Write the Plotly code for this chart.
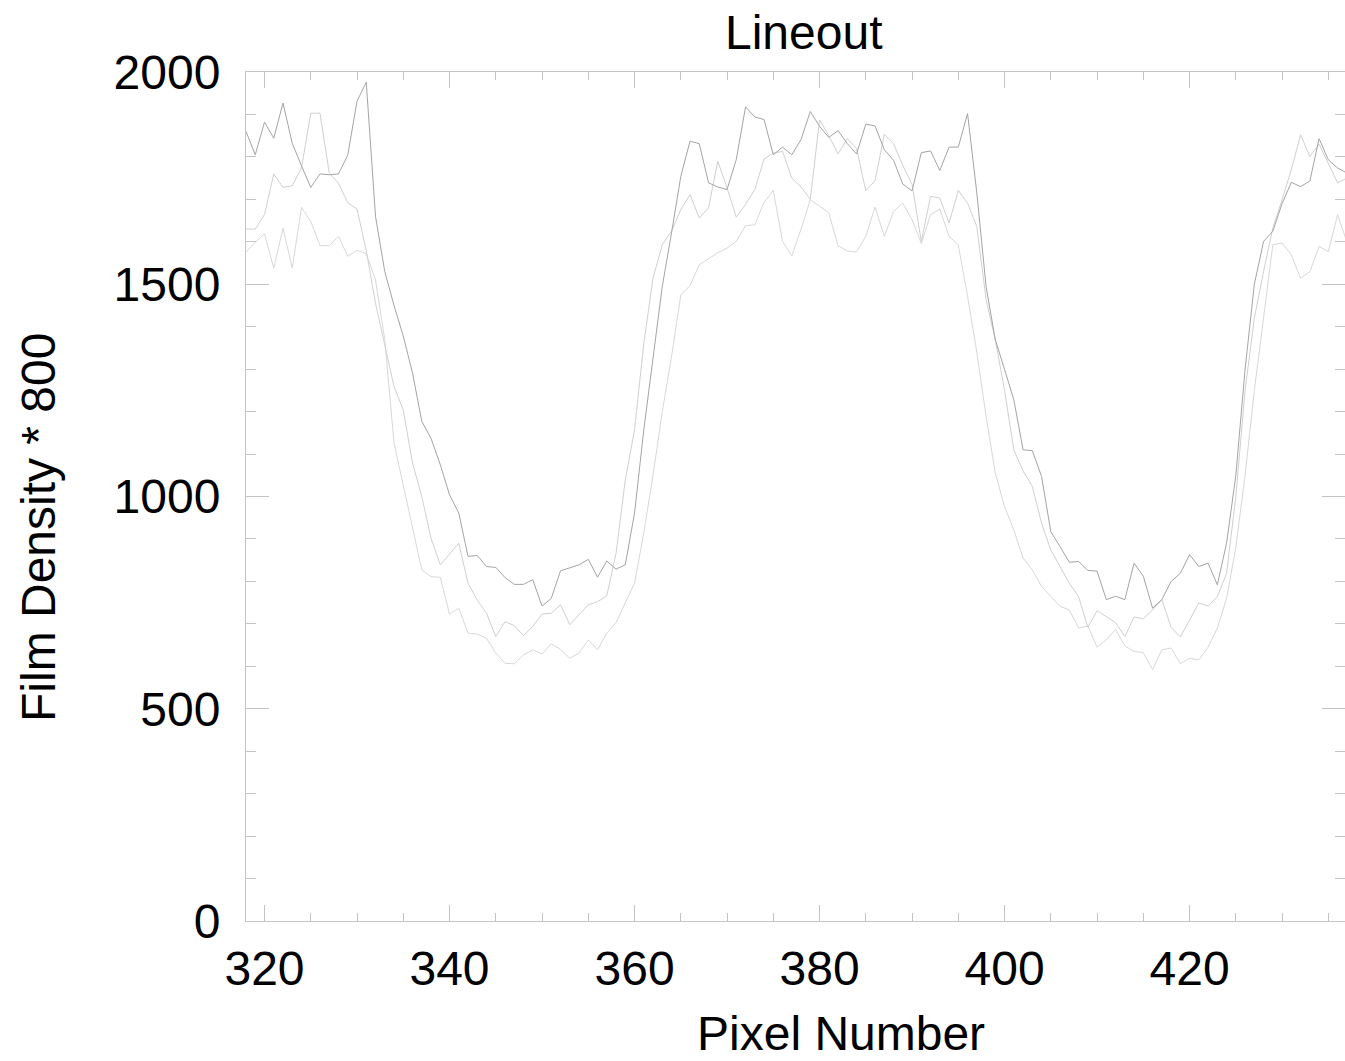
import plotly.graph_objects as go

# Pixel index along the lineout
pixel = list(range(318, 438))

# Three lineouts (film density * 800)
lineout_a = [
    1860, 1805, 1882, 1844, 1927, 1832, 1779, 1728, 1760, 1758,
    1760, 1804, 1931, 1976, 1660, 1530, 1450, 1378, 1291, 1177,
    1137, 1075, 1004, 961, 859, 861, 835, 833, 809, 793,
    793, 804, 742, 760, 825, 832, 839, 852, 810, 848,
    829, 839, 961, 1157, 1330, 1495, 1621, 1754, 1837, 1831,
    1739, 1729, 1723, 1794, 1918, 1894, 1888, 1805, 1823, 1805,
    1841, 1907, 1872, 1846, 1862, 1831, 1807, 1877, 1873, 1817,
    1792, 1736, 1720, 1810, 1814, 1768, 1823, 1823, 1902, 1715,
    1495, 1369, 1299, 1228, 1110, 1108, 1047, 917, 882, 845,
    847, 826, 824, 757, 765, 757, 843, 812, 737, 757,
    800, 819, 863, 835, 843, 792, 890, 1050, 1300, 1500,
    1601, 1625, 1690, 1740, 1730, 1743, 1843, 1793, 1774, 1762,
]
lineout_b = [
    1630, 1630, 1664, 1760, 1728, 1732, 1774, 1903, 1903, 1762,
    1738, 1692, 1677, 1580, 1455, 1360, 1259, 1204, 1079, 1000,
    902, 839, 865, 890, 796, 756, 725, 670, 705, 696,
    672, 694, 723, 725, 745, 698, 721, 745, 752, 766,
    866, 1039, 1157, 1360, 1515, 1593, 1625, 1676, 1711, 1656,
    1680, 1790, 1727, 1658, 1688, 1723, 1795, 1809, 1813, 1750,
    1729, 1700, 1887, 1850, 1807, 1843, 1820, 1720, 1744, 1853,
    1831, 1780, 1735, 1601, 1707, 1703, 1644, 1721, 1691, 1636,
    1464, 1369, 1250, 1110, 1060, 1024, 937, 874, 835, 796,
    764, 692, 731, 717, 703, 670, 716, 712, 733, 757,
    692, 669, 709, 749, 742, 764, 819, 1000, 1250, 1420,
    1530, 1633, 1699, 1770, 1852, 1801, 1830, 1785, 1739, 1750,
]
lineout_c = [
    1576, 1599, 1619, 1538, 1632, 1538, 1681, 1648, 1591, 1591,
    1613, 1566, 1580, 1572, 1510, 1370, 1126, 1024, 921, 827,
    811, 810, 723, 737, 678, 676, 666, 631, 607, 606,
    627, 639, 629, 653, 640, 619, 631, 662, 639, 678,
    703, 749, 796, 914, 1050, 1200, 1330, 1475, 1497, 1546,
    1560, 1574, 1585, 1601, 1638, 1640, 1693, 1721, 1601, 1567,
    1630, 1699, 1684, 1668, 1591, 1578, 1576, 1613, 1682, 1613,
    1672, 1691, 1652, 1596, 1664, 1677, 1613, 1593, 1471, 1340,
    1189, 1055, 976, 921, 855, 827, 788, 764, 741, 733,
    690, 695, 645, 662, 687, 648, 635, 632, 592, 639,
    643, 606, 619, 615, 645, 690, 760, 880, 1050, 1250,
    1420, 1593, 1597, 1569, 1514, 1530, 1589, 1577, 1664, 1600,
]

series = [
    ("A", lineout_a, "#a4a4a4"),
    ("B", lineout_b, "#d0d0d0"),
    ("C", lineout_c, "#d8d8d8"),
]

FONT = "Liberation Sans, Arial, Helvetica, sans-serif"
AXC = "#c4c4c4"

fig = go.Figure()
for name, vals, col in reversed(series):
    fig.add_trace(go.Scatter(x=pixel, y=vals, mode="lines", name=name,
                             line=dict(color=col, width=1), showlegend=False))

W, H = 1345, 1061
L, R, T, B = 246, 0, 72, 140

fig.update_layout(
    width=W, height=H,
    margin=dict(l=L, r=R, t=T, b=B),
    paper_bgcolor="white", plot_bgcolor="white",
    font=dict(family=FONT, size=48, color="black"),
    showlegend=False,
)
fig.update_xaxes(
    range=[318, 436.8], tick0=0, dtick=20, ticks="inside", ticklen=16,
    tickcolor=AXC, tickwidth=1, showline=True, linecolor=AXC, linewidth=1,
    mirror="ticks", showgrid=False, zeroline=False,
    tickfont=dict(family=FONT, size=48, color="black"),
    ticklabelstandoff=5,
    minor=dict(dtick=5, tick0=0, ticks="inside", ticklen=8, tickcolor=AXC,
               tickwidth=1, showgrid=False),
)
fig.update_yaxes(
    range=[0, 2000], tick0=0, dtick=500, ticks="inside", ticklen=23,
    tickcolor=AXC, tickwidth=1, showline=True, linecolor=AXC, linewidth=1,
    mirror="ticks", showgrid=False, zeroline=False,
    tickfont=dict(family=FONT, size=48, color="black"),
    ticklabelstandoff=15,
    minor=dict(dtick=100, tick0=0, ticks="inside", ticklen=10, tickcolor=AXC,
               tickwidth=1, showgrid=False),
)

pw = W - L - R
ph = H - T - B
def px(x):
    return (x - L) / pw
def py(y):
    return (H - B - y) / ph

fig.add_annotation(text="Lineout", x=px(803), y=py(32), xref="paper", yref="paper",
                   xanchor="center", yanchor="middle", showarrow=False,
                   font=dict(family=FONT, size=48, color="black"))
fig.add_annotation(text="Pixel Number", x=px(841), y=py(1033), xref="paper", yref="paper",
                   xanchor="center", yanchor="middle", showarrow=False,
                   font=dict(family=FONT, size=48, color="black"))
fig.add_annotation(text="Film Density * 800", x=px(38), y=py(528), xref="paper", yref="paper",
                   xanchor="center", yanchor="middle", showarrow=False, textangle=-90,
                   font=dict(family=FONT, size=48, color="black"))

fig.write_html("out.html",
               config={"displayModeBar": False},
               post_script="document.body.style.margin='0';document.body.style.overflow='hidden';")
